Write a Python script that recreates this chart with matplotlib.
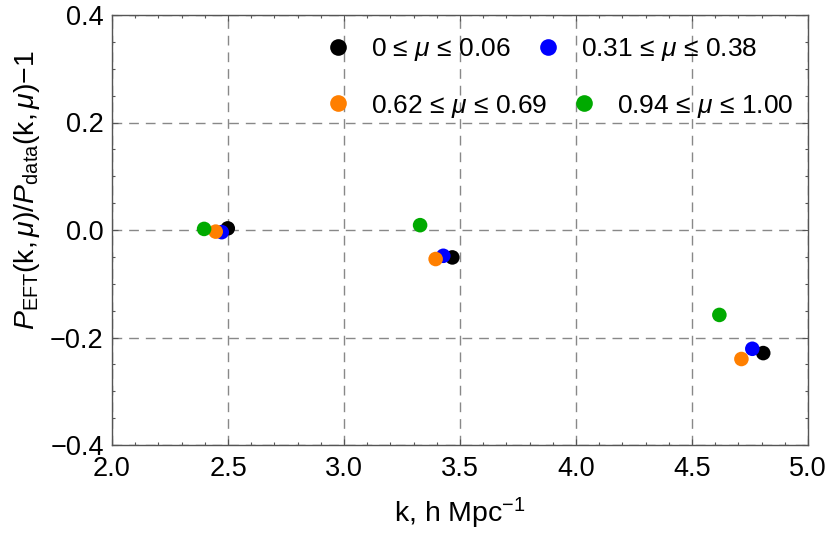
import numpy as np
import matplotlib
matplotlib.use('Agg')
import matplotlib.pyplot as plt
from matplotlib.lines import Line2D
from matplotlib.ticker import MultipleLocator

plt.rcParams['font.family'] = ['Liberation Sans', 'DejaVu Sans']
plt.rcParams['mathtext.fontset'] = 'custom'
plt.rcParams['mathtext.rm'] = 'Liberation Sans'
plt.rcParams['mathtext.it'] = 'Liberation Sans:italic'
plt.rcParams['mathtext.bf'] = 'Liberation Sans:bold'

# mu bins, drawn in this order (later on top)
mu_labels = [r'0 ≤ $\mu$ ≤ 0.06', r'0.31 ≤ $\mu$ ≤ 0.38',
             r'0.62 ≤ $\mu$ ≤ 0.69', r'0.94 ≤ $\mu$ ≤ 1.00']
colors = ['black', '#0000ff', '#ff7f00', '#00aa00']

# k values (h/Mpc) and residuals per bin
k_mu1 = [2.499, 3.467, 4.807]
r_mu1 = [0.003, -0.051, -0.229]
k_mu2 = [2.473, 3.428, 4.760]
r_mu2 = [-0.004, -0.048, -0.221]
k_mu3 = [2.447, 3.395, 4.713]
r_mu3 = [-0.003, -0.054, -0.240]
k_mu4 = [2.397, 3.328, 4.618]
r_mu4 = [0.002, 0.009, -0.158]

ks = [k_mu1, k_mu2, k_mu3, k_mu4]
rs = [r_mu1, r_mu2, r_mu3, r_mu4]

fig = plt.figure(figsize=(8.3, 5.43), dpi=100)
ax = fig.add_axes([112/830, 1 - 445/543, 696/830, 430/543])

for k, r, c in zip(ks, rs, colors):
    ax.scatter(k, r, s=110, color=c, edgecolors='none', zorder=3)

ax.set_xlim(2.0, 5.0)
ax.set_ylim(-0.4, 0.4)
ax.xaxis.set_major_locator(MultipleLocator(0.5))
ax.xaxis.set_minor_locator(MultipleLocator(0.1))
ax.yaxis.set_major_locator(MultipleLocator(0.2))
ax.yaxis.set_minor_locator(MultipleLocator(0.05))

ax.grid(True, which='major', color='#888888', linestyle=(0, (7, 5)), linewidth=1.0)
ax.set_axisbelow(True)

fc = '#555555'
for sp in ax.spines.values():
    sp.set_color(fc)
    sp.set_linewidth(1.0)
ax.tick_params(which='both', direction='in', top=True, right=True, color=fc,
               labelsize=19.5, labelcolor='black')
ax.tick_params(which='major', length=4.5, width=0.8)
ax.tick_params(which='minor', length=2.5, width=0.8)
ax.tick_params(axis='x', pad=8)
ax.tick_params(axis='y', pad=6)

ax.set_xlabel(r'k, h Mpc$^{-1}$', fontsize=20.5)
ax.xaxis.set_label_coords(0.5, -0.118)
ax.set_ylabel(r'$P_{\mathrm{EFT}}(\mathrm{k},\mu)/P_{\mathrm{data}}(\mathrm{k},\mu)\mathrm{-1}$',
              fontsize=20.5, va='center')
ax.yaxis.set_label_coords(-0.122, 0.593)

handles = [Line2D([], [], linestyle='none', marker='o', markersize=12,
                  markerfacecolor=c, markeredgecolor='none') for c in colors]

leg_kw = dict(ncol=2, frameon=False, fontsize=19, handlelength=1.0,
              handletextpad=0.75, columnspacing=0.9, borderpad=0,
              borderaxespad=0, loc='center left')
leg1 = ax.legend(handles[:2], mu_labels[:2], bbox_to_anchor=(0.306, 0.920), **leg_kw)
ax.add_artist(leg1)
ax.legend(handles[2:], mu_labels[2:], bbox_to_anchor=(0.306, 0.788), **leg_kw)

fig.savefig('out.png', dpi=100)
